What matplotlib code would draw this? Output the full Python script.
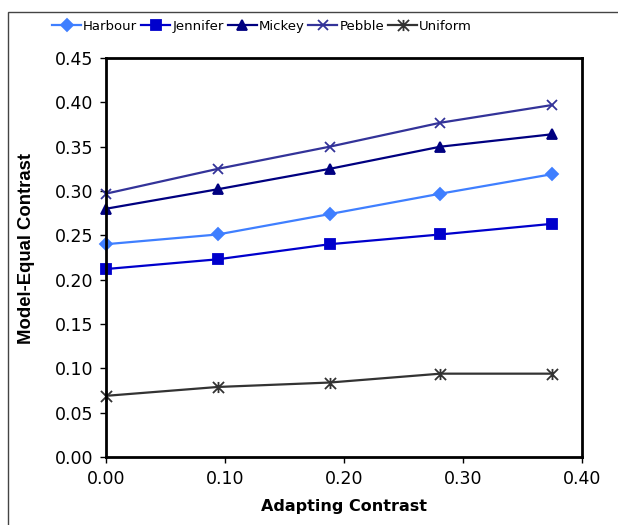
import matplotlib
matplotlib.use("Agg")
import matplotlib.pyplot as plt
from matplotlib.path import Path
from matplotlib.patches import Rectangle
from matplotlib.ticker import FormatStrFormatter, MultipleLocator

adapting = [0.0, 0.094, 0.188, 0.281, 0.375]
harbour = [0.240, 0.251, 0.274, 0.297, 0.319]
jennifer = [0.212, 0.223, 0.240, 0.251, 0.263]
mickey = [0.280, 0.302, 0.325, 0.350, 0.364]
pebble = [0.297, 0.325, 0.350, 0.377, 0.397]
uniform = [0.069, 0.079, 0.084, 0.094, 0.094]

# Excel-style asterisk: vertical bar plus an X
star = Path(
    [(0, -1), (0, 1), (-1, -1), (1, 1), (-1, 1), (1, -1)],
    [Path.MOVETO, Path.LINETO, Path.MOVETO, Path.LINETO, Path.MOVETO, Path.LINETO],
)

series = [
    ("Harbour", harbour, "#3F7FFF", "D", 6),
    ("Jennifer", jennifer, "#0000CC", "s", 7),
    ("Mickey", mickey, "#000080", "^", 7),
    ("Pebble", pebble, "#333399", "x", 7),
    ("Uniform", uniform, "#333333", star, 8),
]

plt.rcParams["font.family"] = ["DejaVu Sans"]

fig = plt.figure(figsize=(6.18, 5.25), dpi=100)
ax = fig.add_axes([0.1715, 0.1295, 0.7702, 0.76])

for name, vals, color, marker, ms in series:
    ax.plot(adapting, vals, color=color, linewidth=1.6, marker=marker,
            markersize=ms, markeredgewidth=1.3, markerfacecolor=color,
            markeredgecolor=color, label=name, clip_on=False)

ax.set_xlim(0, 0.40)
ax.set_ylim(0, 0.45)
ax.xaxis.set_major_locator(MultipleLocator(0.10))
ax.yaxis.set_major_locator(MultipleLocator(0.05))
ax.xaxis.set_major_formatter(FormatStrFormatter("%.2f"))
ax.yaxis.set_major_formatter(FormatStrFormatter("%.2f"))
ax.tick_params(direction="out", length=4, width=1, labelsize=12.5, pad=5)

for sp in ax.spines.values():
    sp.set_linewidth(2)
    sp.set_color("black")

fig.text(344 / 618, 1 - 506 / 525, "Adapting Contrast", fontsize=11.5,
         fontweight="bold", ha="center", va="center")
fig.text(27 / 618, 1 - 248 / 525, "Model-Equal Contrast", fontsize=13.3,
         fontweight="bold", family="Liberation Sans", rotation=90,
         ha="center", va="center")

fig.legend(loc="center", bbox_to_anchor=(0.424, 0.950), ncol=5, frameon=False,
           fontsize=9.5, handlelength=2.2, handletextpad=0.15, columnspacing=0.3,
           borderaxespad=0)

# outer chart-area frame (only left and top edges are visible in the image)
fig.patches.append(Rectangle((8 / 618, -0.1), 1.2, 1 - 12 / 525 + 0.1,
                             transform=fig.transFigure, fill=False,
                             edgecolor="#444444", linewidth=1, zorder=0))

fig.savefig("out.png", dpi=100)
